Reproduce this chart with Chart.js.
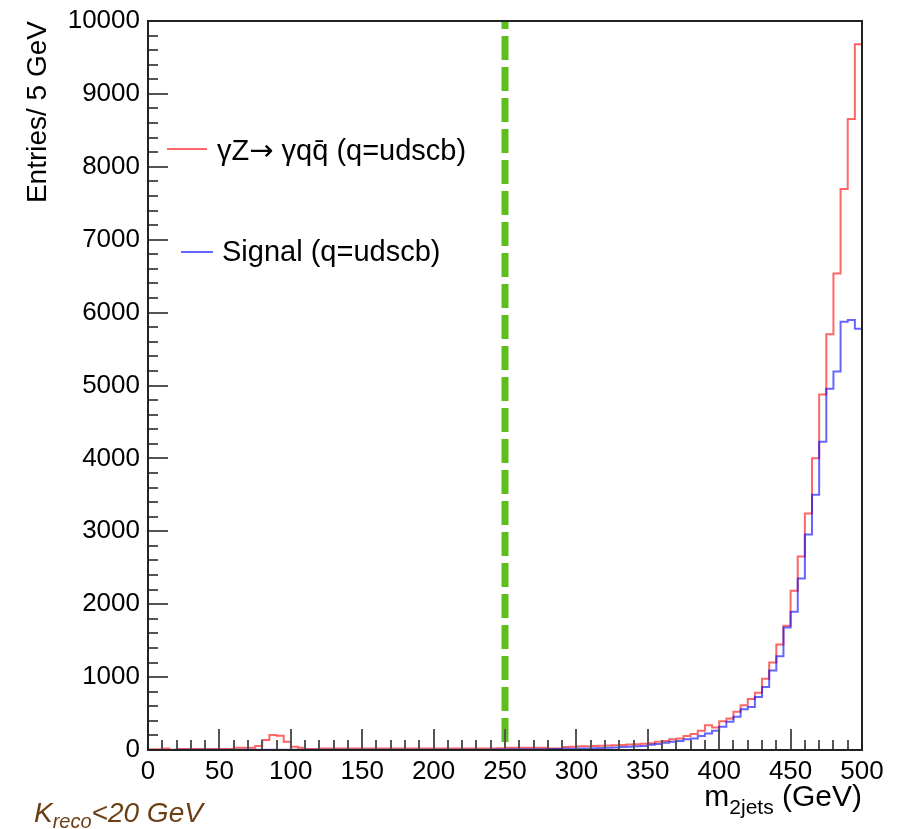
<!DOCTYPE html>
<html><head><meta charset="utf-8">
<script src="https://cdn.jsdelivr.net/npm/chart.js@4/dist/chart.umd.min.js"></script>
<style>html,body{margin:0;padding:0;background:#fff;}#wrap{width:900px;height:829px;}</style>
</head><body><div id="wrap"><canvas id="c" width="900" height="829"></canvas></div>
<script>
// ---- data ----
const binWidth = 5;
const xMin = 0, xMax = 500;
const yMin = 0, yMax = 10000;
const xTickValues = [0, 50, 100, 150, 200, 250, 300, 350, 400, 450, 500];
const yTickValues = [0, 1000, 2000, 3000, 4000, 5000, 6000, 7000, 8000, 9000, 10000];
// gamma Z -> gamma q qbar background, entries per 5 GeV bin (0-500 GeV)
const background = [
  12, 10, 20, 2, 15, 15, 15, 15, 15, 15,
  15, 15, 31, 31, 31, 55, 136, 205, 195, 114,
  45, 31, 15, 15, 20, 20, 20, 20, 20, 20,
  20, 20, 20, 20, 20, 20, 20, 20, 20, 20,
  20, 20, 20, 20, 20, 22, 22, 22, 22, 25,
  30, 30, 30, 30, 30, 30, 22, 20, 40, 45,
  50, 52, 55, 58, 62, 66, 70, 75, 80, 85,
  91, 114, 123, 146, 159, 191, 218, 264, 341, 310,
  396, 432, 523, 614, 700, 785, 978, 1200, 1446, 1705,
  2183, 2655, 3243, 4002, 4875, 5703, 6535, 7694, 8654, 9682
];
// signal, entries per 5 GeV bin
const signal = [
  0, 0, 0, 0, 2, 2, 2, 2, 2, 2,
  2, 2, 3, 3, 3, 3, 3, 3, 3, 3,
  3, 3, 3, 3, 3, 3, 3, 3, 3, 3,
  3, 3, 3, 3, 3, 3, 3, 3, 3, 3,
  4, 4, 4, 4, 5, 5, 5, 5, 6, 6,
  10, 10, 10, 10, 12, 12, 14, 14, 16, 18,
  20, 22, 25, 28, 32, 36, 40, 45, 50, 55,
  73, 82, 100, 114, 123, 146, 159, 191, 228, 264,
  318, 386, 455, 559, 591, 727, 864, 1091, 1287, 1682,
  1896, 2351, 2956, 3502, 4229, 4957, 5193, 5876, 5898, 5780
];
const cutValue = 250;
const legendLabels = ['\u03B3Z\u2192 \u03B3qq\u0304 (q=udscb)', 'Signal (q=udscb)'];
const yTitle = 'Entries/ 5 GeV';

// ---- helpers ----
function histPoints(vals) {
  const pts = vals.map((v, i) => ({ x: xMin + i * binWidth, y: v }));
  pts.push({ x: xMin + vals.length * binWidth, y: vals[vals.length - 1] });
  return pts;
}

const FONT = '"Liberation Sans", Arial, Helvetica, sans-serif';
const L = 148, R = 862, T = 17, B = 750;

const rootPlugin = {
  id: 'rootStyle',
  afterDraw(chart) {
    const ctx = chart.ctx;
    const xs = chart.scales.x, ys = chart.scales.y;
    const ca = chart.chartArea;
    ctx.save();
    // ticks (inside the frame)
    ctx.strokeStyle = '#555';
    ctx.lineWidth = 2;
    ctx.beginPath();
    for (let v = xMin; v <= xMax; v += 10) {
      const px = Math.round(xs.getPixelForValue(v));
      const len = (v % 50 === 0) ? 21 : 10;
      ctx.moveTo(px, ca.bottom); ctx.lineTo(px, ca.bottom - len);
    }
    for (let v = yMin; v <= yMax; v += 200) {
      const py = Math.round(ys.getPixelForValue(v));
      const len = (v % 1000 === 0) ? 20 : 10;
      ctx.moveTo(ca.left, py); ctx.lineTo(ca.left + len, py);
    }
    ctx.stroke();
    // frame
    ctx.strokeStyle = '#222';
    ctx.lineWidth = 2;
    ctx.strokeRect(ca.left, ca.top, ca.right - ca.left, ca.bottom - ca.top);

    // legend
    ctx.lineWidth = 2;
    ctx.strokeStyle = 'rgba(255,0,0,0.6)';
    ctx.beginPath(); ctx.moveTo(167, 149); ctx.lineTo(207, 149); ctx.stroke();
    ctx.strokeStyle = 'rgba(0,0,255,0.6)';
    ctx.beginPath(); ctx.moveTo(181, 252); ctx.lineTo(213, 252); ctx.stroke();
    ctx.fillStyle = '#000';
    ctx.textBaseline = 'middle';
    ctx.textAlign = 'left';
    const lf = '29px ' + FONT;
    let lx = 217;
    ctx.font = lf; ctx.fillText('\u03B3Z', lx, 152); lx += ctx.measureText('\u03B3Z').width;
    ctx.font = '29px "DejaVu Sans"'; ctx.fillText('\u2192', lx, 152); lx += ctx.measureText('\u2192').width;
    ctx.font = lf; ctx.fillText(' \u03B3qq\u0304 (q=udscb)', lx, 152);
    ctx.fillText(legendLabels[1], 222, 253);

    // y title
    ctx.save();
    ctx.translate(46, ca.top);
    ctx.rotate(-Math.PI / 2);
    ctx.font = '28px ' + FONT;
    ctx.textAlign = 'right';
    ctx.textBaseline = 'alphabetic';
    ctx.fillText(yTitle, 0, 0);
    ctx.restore();

    // x title: m_{2jets} (GeV), right aligned
    ctx.textBaseline = 'alphabetic';
    ctx.textAlign = 'left';
    const big = '30px ' + FONT, small = '21px ' + FONT;
    ctx.font = big; const wM = ctx.measureText('m').width;
    const wG = ctx.measureText(' (GeV)').width;
    ctx.font = small; const wS = ctx.measureText('2jets').width;
    let x0 = ca.right - (wM + wS + wG);
    ctx.font = big; ctx.fillText('m', x0, 806);
    ctx.font = small; ctx.fillText('2jets', x0 + wM, 814);
    ctx.font = big; ctx.fillText(' (GeV)', x0 + wM + wS, 806);

    // K_reco < 20 GeV
    ctx.fillStyle = '#6b3f14';
    const ib = 'italic 28px ' + FONT, is = 'italic 20px ' + FONT;
    let kx = 34;
    ctx.font = ib; ctx.fillText('K', kx, 822); kx += ctx.measureText('K').width;
    ctx.font = is; ctx.fillText('reco', kx, 828); kx += ctx.measureText('reco').width;
    ctx.font = ib; ctx.fillText('<20 GeV', kx, 822);
    ctx.restore();
  }
};

new Chart(document.getElementById('c'), {
  type: 'line',
  data: {
    datasets: [
      { label: 'cut', data: [{ x: cutValue, y: yMin }, { x: cutValue, y: yMax }],
        borderColor: '#5cbf1e', borderWidth: 7, borderDash: [24, 7], borderDashOffset: 23,
        pointRadius: 0, fill: false, order: 3 },
      { label: legendLabels[0], data: histPoints(background), stepped: true,
        borderColor: 'rgba(255,0,0,0.6)', borderWidth: 2, pointRadius: 0, fill: false, order: 2 },
      { label: legendLabels[1], data: histPoints(signal), stepped: true,
        borderColor: 'rgba(0,0,255,0.6)', borderWidth: 2, pointRadius: 0, fill: false, order: 1 }
    ]
  },
  options: {
    responsive: false, animation: false, devicePixelRatio: 1,
    layout: { padding: { top: T, right: 900 - R, left: 0, bottom: 0 } },
    plugins: { legend: { display: false }, tooltip: { enabled: false } },
    scales: {
      x: {
        type: 'linear', min: xMin, max: xMax,
        afterFit(s) { s.height = 829 - B; },
        afterBuildTicks(s) { s.ticks = xTickValues.map(v => ({ value: v })); },
        grid: { display: false, drawTicks: false }, border: { display: false },
        ticks: { color: '#000', font: { family: FONT, size: 26, lineHeight: 1 }, padding: 9, maxRotation: 0, autoSkip: false,
                 callback: v => String(v) }
      },
      y: {
        type: 'linear', min: yMin, max: yMax,
        afterFit(s) { s.width = L; },
        afterBuildTicks(s) { s.ticks = yTickValues.map(v => ({ value: v })); },
        grid: { display: false, drawTicks: false }, border: { display: false },
        ticks: { color: '#000', font: { family: FONT, size: 26, lineHeight: 1 }, padding: 8, autoSkip: false,
                 callback: v => String(v) }
      }
    }
  },
  plugins: [rootPlugin]
});
</script></body></html>
